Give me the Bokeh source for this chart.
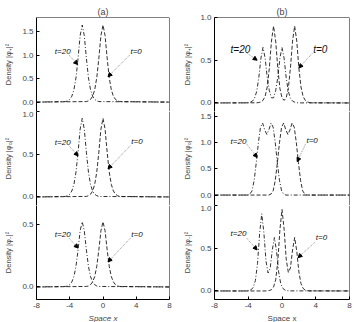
from bokeh.plotting import figure
from bokeh.layouts import row, column
from bokeh.models import (Range1d, FixedTicker, Label, Arrow, NormalHead,
                          CustomJSTickFormatter, Span)
from bokeh.embed import file_html
from bokeh.resources import INLINE

FONT = "Liberation Sans"

# ---------------- data ----------------
X_TICKS = [-8, -4, 0, 4, 8]
X_TICK_LABELS = ["-8", "-4", "0", "4", "8"]

# column (a): shared x grids
XA_T20 = [-8, -4.5, -4.25, -4.0, -3.75, -3.5, -3.25, -3.0, -2.75, -2.5, -2.25, -2.0,
          -1.75, -1.5, -1.25, -1.0, -0.75, -0.5, 8]
XA_T0 = [-8, -2.0, -1.75, -1.5, -1.25, -1.0, -0.75, -0.5, -0.25, 0.0, 0.25, 0.5,
         0.75, 1.0, 1.25, 1.5, 1.75, 2.0, 8]

A_TOP_T20 = [0, 0.011, 0.026, 0.057, 0.125, 0.261, 0.518, 0.935, 1.414, 1.64, 1.414, 0.935,
             0.518, 0.261, 0.125, 0.057, 0.026, 0.011, 0]
A_TOP_T0 = [0, 0.011, 0.026, 0.057, 0.125, 0.261, 0.518, 0.935, 1.414, 1.64, 1.414, 0.935,
            0.518, 0.261, 0.125, 0.057, 0.026, 0.011, 0]
A_MID_T20 = [0, 0.006, 0.015, 0.032, 0.070, 0.146, 0.291, 0.524, 0.793, 0.92, 0.793, 0.524,
             0.291, 0.146, 0.070, 0.032, 0.015, 0.006, 0]
A_MID_T0 = [0, 0.006, 0.015, 0.032, 0.070, 0.146, 0.291, 0.524, 0.793, 0.92, 0.793, 0.524,
            0.291, 0.146, 0.070, 0.032, 0.015, 0.006, 0]
A_BOT_T20 = [0, 0.004, 0.008, 0.018, 0.040, 0.083, 0.164, 0.296, 0.448, 0.52, 0.448, 0.296,
             0.164, 0.083, 0.040, 0.018, 0.008, 0.004, 0]
A_BOT_T0 = [0, 0.004, 0.008, 0.018, 0.040, 0.083, 0.164, 0.296, 0.448, 0.52, 0.448, 0.296,
            0.164, 0.083, 0.040, 0.018, 0.008, 0.004, 0]

# column (b)
XB_TOP_T20 = [-8, -4.25, -4.0, -3.75, -3.5, -3.25, -3.0, -2.75, -2.5, -2.25, -2.0, -1.75, -1.5,
              -1.25, -1.0, -0.75, -0.5, -0.25, 0.0, 0.25, 0.5, 0.75, 1.0, 1.25, 1.5, 1.75, 2.0, 8]
B_TOP_T20 = [0, 0.001, 0.003, 0.009, 0.022, 0.056, 0.135, 0.294, 0.523, 0.65, 0.524, 0.297, 0.144,
             0.06, 0.06, 0.144, 0.297, 0.524, 0.65, 0.523, 0.294, 0.135, 0.056, 0.022, 0.009, 0.003, 0.001, 0]
XB_TOP_T0 = [-8, -3.0, -2.75, -2.5, -2.25, -2.0, -1.75, -1.5, -1.25, -1.0, -0.75, -0.5, -0.25, 0.0,
             0.25, 0.5, 0.75, 1.0, 1.25, 1.5, 1.75, 2.0, 2.25, 2.5, 2.75, 3.0, 3.25, 3.5, 8]
B_TOP_T0 = [0, 0.002, 0.005, 0.012, 0.031, 0.077, 0.187, 0.408, 0.724, 0.9, 0.724, 0.41, 0.17, 0.06,
            0.03, 0.06, 0.17, 0.41, 0.724, 0.9, 0.724, 0.408, 0.187, 0.077, 0.031, 0.012, 0.005, 0.002, 0]

XB_MID_T20 = [-8, -4.05, -3.8, -3.55, -3.3, -3.05, -2.8, -2.55, -2.3, -2.05, -1.8, -1.55, -1.3,
              -1.05, -0.8, -0.55, -0.3, -0.05, 0.2, 0.45, 8]
B_MID_T20 = [0, 0.0, 0.02, 0.08, 0.28, 0.62, 1.0, 1.3, 1.38, 1.25, 1.16, 1.25, 1.38,
             1.3, 1.0, 0.62, 0.28, 0.08, 0.02, 0.0, 0]
XB_MID_T0 = [-8, -1.55, -1.3, -1.05, -0.8, -0.55, -0.3, -0.05, 0.2, 0.45, 0.7, 0.95, 1.2,
             1.45, 1.7, 1.95, 2.2, 2.45, 2.7, 2.95, 8]
B_MID_T0 = [0, 0.0, 0.02, 0.08, 0.28, 0.62, 1.0, 1.3, 1.38, 1.25, 1.16, 1.25, 1.38,
            1.3, 1.0, 0.62, 0.28, 0.08, 0.02, 0.0, 0]

XB_BOT_T20 = [-8, -4.4, -4.15, -3.9, -3.65, -3.4, -3.15, -2.9, -2.65, -2.4, -2.15, -1.9, -1.65,
              -1.4, -1.15, -0.9, -0.65, -0.4, -0.15, 0.1, 0.35, 0.6, 0.85, 8]
B_BOT_T20 = [0, 0.0, 0.002, 0.005, 0.015, 0.043, 0.124, 0.323, 0.675, 0.903, 0.685, 0.353, 0.210,
             0.266, 0.480, 0.625, 0.467, 0.223, 0.086, 0.030, 0.010, 0.003, 0.001, 0]
XB_BOT_T0 = [-8, -2.0, -1.75, -1.5, -1.25, -1.0, -0.75, -0.5, -0.25, 0.0, 0.25, 0.5, 0.75,
             1.0, 1.25, 1.5, 1.75, 2.0, 2.25, 2.5, 2.75, 3.0, 3.25, 8]
B_BOT_T0 = [0, 0.0, 0.002, 0.005, 0.015, 0.046, 0.131, 0.341, 0.713, 0.953, 0.723, 0.371, 0.217,
            0.269, 0.480, 0.625, 0.467, 0.223, 0.086, 0.030, 0.010, 0.003, 0.001, 0]

Y_LABELS = ["Density |φ₊|²", "Density |φ₀|²", "Density |φ₋|²"]


def make_panel(title, ylabel, yr, yticks, curves, notes, pos, col, note_size):
    top = pos == 0
    bottom = pos == 2
    p = figure(frame_width=133 if col == 0 else 135, frame_height=94,
               x_range=Range1d(-8, 8), y_range=Range1d(*yr),
               output_backend="svg", toolbar_location=None,
               min_border_left=36 if col == 0 else 35, min_border_right=10 if col == 0 else 6,
               min_border_top=17 if top else 0, min_border_bottom=23 if bottom else 0,
               title=title if top else None)
    if top:
        p.title.align = "center"
        p.title.text_font = FONT
        p.title.text_font_size = "9px"
        p.title.text_font_style = "normal"
        p.title.offset = 0
        p.title.standoff = 2
    p.background_fill_color = "white"
    p.border_fill_color = "white"
    p.outline_line_color = None
    p.grid.visible = False

    ya = p.yaxis[0]
    ya.ticker = FixedTicker(ticks=yticks)
    ya.formatter = CustomJSTickFormatter(code="return tick.toFixed(1);")
    ya.major_tick_in = 3
    ya.major_tick_out = 0
    ya.minor_tick_line_color = None
    ya.major_label_text_font = FONT
    ya.major_label_text_font_size = "8px"
    ya.major_label_standoff = 3
    ya.axis_label = ylabel
    ya.axis_label_text_font = FONT
    ya.axis_label_text_font_size = "7.5px"
    ya.axis_label_text_font_style = "normal"
    ya.axis_label_standoff = 6 if col == 0 else 5
    ya.axis_line_color = "black"

    # frame edges (right always, top for the first panel, bottom for the upper two)
    p.add_layout(Span(location=8, dimension="height", line_color="black", line_width=1))
    if top:
        p.add_layout(Span(location=yr[1], dimension="width", line_color="black", line_width=1))

    xa = p.xaxis[0]
    if bottom:
        xa.ticker = FixedTicker(ticks=X_TICKS)
        xa.major_label_overrides = {t: s for t, s in zip(X_TICKS, X_TICK_LABELS)}
        xa.major_tick_in = 3
        xa.major_tick_out = 0
        xa.minor_tick_line_color = None
        xa.axis_line_color = "black"
        xa.major_label_text_font = FONT
        xa.major_label_text_font_size = "8px"
        xa.major_label_standoff = 3
        xa.axis_label = "Space x"
        xa.axis_label_text_font = FONT
        xa.axis_label_text_font_size = "8px"
        xa.axis_label_text_font_style = "italic" if col == 0 else "normal"
        xa.axis_label_standoff = 3
    else:
        xa.visible = False
        p.add_layout(Span(location=yr[0], dimension="width", line_color="black", line_width=1))

    for xs, ys, dash in curves:
        p.line(xs, ys, line_color="#1a1a1a", line_width=0.9, line_dash=dash)

    for text, lx, ly, ax0, ay0, ax1, ay1 in notes:
        p.add_layout(Label(x=lx, y=ly, text=text, text_font=FONT, text_font_size=note_size,
                           text_font_style="italic", text_baseline="middle", text_align="left",
                           text_color="#111"))
        p.add_layout(Arrow(end=NormalHead(size=4, fill_color="black", line_color="black"),
                           x_start=ax0, y_start=ay0, x_end=ax1, y_end=ay1,
                           line_color="#777", line_width=0.8, line_dash="1 1"))
    return p


DASH_T20 = "4 2 1 2"
DASH_T0 = "4 2"

a1 = make_panel("(a)", Y_LABELS[0], (-0.2, 1.8), [0, 0.5, 1.0, 1.5],
                [(XA_T20, A_TOP_T20, DASH_T20), (XA_T0, A_TOP_T0, DASH_T0)],
                [("t=20", -5.8, 1.07, -4.1, 1.0, -3.05, 0.8),
                 ("t=0", 3.3, 1.07, 3.2, 1.0, 0.6, 0.54)], 0, 0, "8px")
a2 = make_panel(None, Y_LABELS[1], (-0.1, 1.0), [0, 0.5, 1.0],
                [(XA_T20, A_MID_T20, DASH_T20), (XA_T0, A_MID_T0, DASH_T0)],
                [("t=20", -5.8, 0.64, -4.1, 0.6, -3.0, 0.48),
                 ("t=0", 3.4, 0.65, 3.3, 0.6, 0.6, 0.33)], 1, 0, "8px")
a3 = make_panel(None, Y_LABELS[2], (-0.1, 0.65), [0, 0.5],
                [(XA_T20, A_BOT_T20, DASH_T20), (XA_T0, A_BOT_T0, DASH_T0)],
                [("t=20", -5.8, 0.42, -4.1, 0.39, -3.0, 0.31),
                 ("t=0", 3.4, 0.42, 3.3, 0.39, 0.6, 0.2)], 2, 0, "8px")

b1 = make_panel("(b)", Y_LABELS[0], (-0.1, 1.0), [0, 0.5, 1.0],
                [(XB_TOP_T20, B_TOP_T20, DASH_T20), (XB_TOP_T0, B_TOP_T0, DASH_T0)],
                [("t=20", -6.1, 0.63, -4.1, 0.58, -2.95, 0.5),
                 ("t=0", 3.7, 0.63, 3.6, 0.58, 2.0, 0.41)], 0, 1, "10px")
b2 = make_panel(None, Y_LABELS[1], (-0.2, 1.6), [0, 0.5, 1.0, 1.5],
                [(XB_MID_T20, B_MID_T20, DASH_T20), (XB_MID_T0, B_MID_T0, DASH_T0)],
                [("t=20", -6.1, 1.03, -4.2, 0.98, -2.95, 0.72),
                 ("t=0", 2.9, 1.05, 2.8, 0.98, 1.8, 0.64)], 1, 1, "8px")
b3 = make_panel(None, Y_LABELS[2], (-0.1, 1.0), [0, 0.5, 1.0],
                [(XB_BOT_T20, B_BOT_T20, DASH_T20), (XB_BOT_T0, B_BOT_T0, DASH_T0)],
                [("t=20", -6.1, 0.67, -4.2, 0.62, -2.95, 0.48),
                 ("t=0", 4.0, 0.62, 3.9, 0.57, 1.9, 0.39)], 2, 1, "8px")

layout = row(column(a1, a2, a3, spacing=0), column(b1, b2, b3, spacing=0), spacing=0)

open("out.html", "w").write(file_html(layout, INLINE))
